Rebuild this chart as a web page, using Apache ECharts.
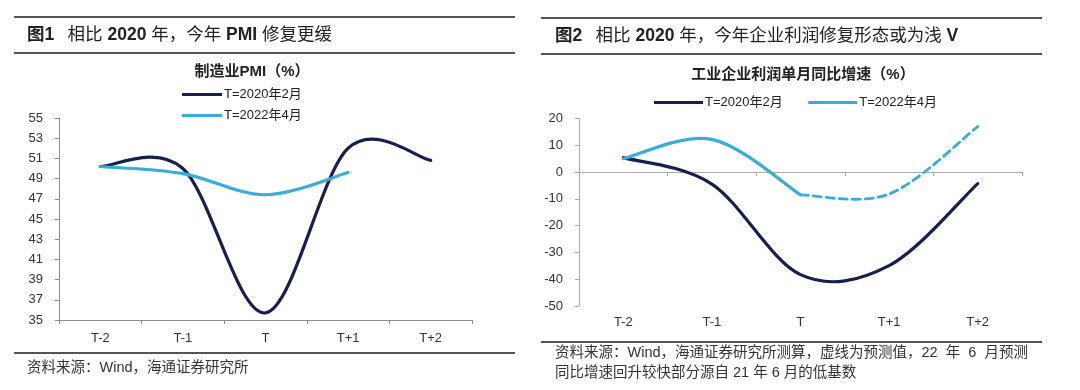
<!DOCTYPE html>
<html><head><meta charset="utf-8">
<script src="https://cdn.jsdelivr.net/npm/echarts@6/dist/echarts.min.js"></script>
<style>html,body{margin:0;padding:0;background:#fff}#c{width:1080px;height:390px}</style>
</head><body><div id="c"></div>
<script>
const categories = ['T-2','T-1','T','T+1','T+2'];
const pmi2020 = [50.2, 50.0, 35.7, 52.0, 50.8];
const pmi2022 = [50.2, 49.5, 47.4, 49.6, null];
const profit2020 = [5.4, -4.5, -38.3, -34.9, -4.3];
const profit2022Actual = [5.0, 12.2, -8.5, null, null];
const profit2022Forecast = [null, null, -8.5, -8.2, 17.0];
const seriesNames = ['T=2020年2月', 'T=2022年4月'];
const pmiTicks = {min: 35, max: 55, interval: 2};
const profitTicks = {min: -50, max: 20, interval: 10};

const FONT = '"Liberation Sans","Noto Sans CJK SC",sans-serif';
const DARK = '#16204e';
const LIGHT = '#38acdc';
const AX = '#8c8c8c';
const chart = echarts.init(document.getElementById('c'), null, {renderer: 'canvas'});

function hline(x1, x2, y, w) {
  return {type: 'line', shape: {x1: x1, y1: y, x2: x2, y2: y}, style: {stroke: '#555', lineWidth: w || 1.8}, silent: true};
}
function txt(x, y, text, size, weight, color, align) {
  return {type: 'text', x: x, y: y, style: {text: text, font: (weight || 'normal') + ' ' + size + 'px ' + FONT, fill: color || '#222', textAlign: align || 'left', textVerticalAlign: 'middle'}, silent: true};
}
function richTitle(x, y, parts) {
  const rich = {
    b: {fontFamily: FONT, fontWeight: 'bold', fontSize: 17.5, fill: '#222', color: '#222'},
    n: {fontFamily: FONT, fontWeight: 'normal', fontSize: 17.5, fill: '#222', color: '#222'}
  };
  return {type: 'text', x: x, y: y, style: {text: parts, rich: rich, textVerticalAlign: 'middle', verticalAlign: 'middle'}, silent: true};
}

// Excel-style smoothed curve (Catmull-Rom, tension 1/6) through the data points, positioned by the axes
function curveSeries(name, values, xi, yi, color, width, dash) {
  const pts = [];
  values.forEach(function (v, i) { if (v !== null) pts.push([i, v]); });
  return {
    name: name, type: 'custom', xAxisIndex: xi, yAxisIndex: yi,
    data: pts, encode: {x: 0, y: 1},
    itemStyle: {color: color},
    renderItem: function (params, api) {
      if (params.dataIndex !== 0) return null;
      const c = pts.map(function (p) { return api.coord(p); });
      let d = 'M' + c[0][0] + ' ' + c[0][1];
      for (let i = 0; i < c.length - 1; i++) {
        const p0 = c[i - 1] || c[i], p1 = c[i], p2 = c[i + 1], p3 = c[i + 2] || c[i + 1];
        const c1x = p1[0] + (p2[0] - p0[0]) / 6, c1y = p1[1] + (p2[1] - p0[1]) / 6;
        const c2x = p2[0] - (p3[0] - p1[0]) / 6, c2y = p2[1] - (p3[1] - p1[1]) / 6;
        d += ' C' + c1x + ' ' + c1y + ' ' + c2x + ' ' + c2y + ' ' + p2[0] + ' ' + p2[1];
      }
      return {type: 'path', shape: {pathData: d}, style: {fill: 'none', stroke: color, lineWidth: width, lineDash: dash || null, lineCap: 'round', lineJoin: 'round'}};
    }
  };
}

const option = {
  animation: false,
  textStyle: {fontFamily: FONT},
  graphic: [
    hline(14, 515, 17), hline(14, 515, 53), hline(14, 515, 353),
    hline(541, 1042, 18), hline(541, 1042, 54), hline(541, 1042, 342),
    richTitle(27, 35, '{b|图1}    {n|相比 }{b|2020 }{n|年，今年 }{b|PMI }{n|修复更缓}'),
    richTitle(555, 36, '{b|图2}    {n|相比 }{b|2020 }{n|年，今年企业利润修复形态或为浅 }{b|V}'),
    txt(252, 72, '制造业PMI（%）', 15, 'bold', '#222', 'center'),
    txt(803, 75, '工业企业利润单月同比增速（%）', 15, 'bold', '#222', 'center'),
    txt(27, 368, '资料来源：Wind，海通证券研究所', 14.5, 'normal', '#333'),
    txt(555, 353, '资料来源：Wind，海通证券研究所测算，虚线为预测值，22  年  6  月预测', 14.5, 'normal', '#333'),
    txt(555, 373, '同比增速回升较快部分源自 21 年 6 月的低基数', 14.5, 'normal', '#333')
  ],
  legend: [
    {
      orient: 'vertical', left: 182, top: 88, padding: 0, itemGap: 8, itemWidth: 40, itemHeight: 3,
      icon: 'rect', data: seriesNames,
      textStyle: {fontSize: 13, color: '#222', padding: [0, 0, 0, -3]},
      selectedMode: false
    },
    {
      orient: 'horizontal', left: 654, top: 96, padding: 0, itemGap: 22, itemWidth: 49, itemHeight: 3,
      icon: 'rect', data: seriesNames.map(function (n) { return n + ' '; }),
      textStyle: {fontSize: 13, color: '#222', padding: [0, 0, 0, -3]},
      selectedMode: false
    }
  ],
  grid: [
    {left: 59, top: 118, width: 413, height: 202},
    {left: 579, top: 118.5, width: 443, height: 187.5}
  ],
  xAxis: [
    {
      gridIndex: 0, type: 'category', data: categories, boundaryGap: true,
      axisLine: {lineStyle: {color: AX}}, axisTick: {show: true, length: 4, lineStyle: {color: AX}},
      axisLabel: {color: '#333', fontSize: 13, margin: 12}
    },
    {
      gridIndex: 1, type: 'category', data: categories, boundaryGap: true,
      axisLine: {onZero: false, show: false}, axisTick: {show: false},
      axisLabel: {color: '#333', fontSize: 13, margin: 10}
    },
    {
      gridIndex: 1, type: 'category', data: categories, boundaryGap: true, position: 'bottom',
      axisLine: {onZero: true, lineStyle: {color: '#aaa'}}, axisTick: {show: true, length: 4, lineStyle: {color: '#aaa'}},
      axisLabel: {show: false}
    }
  ],
  yAxis: [
    {
      gridIndex: 0, type: 'value', min: pmiTicks.min, max: pmiTicks.max, interval: pmiTicks.interval,
      axisLine: {show: true, lineStyle: {color: AX}}, axisTick: {show: true, length: 4, lineStyle: {color: AX}},
      splitLine: {show: false}, axisLabel: {color: '#333', fontSize: 13, margin: 16}
    },
    {
      gridIndex: 1, type: 'value', min: profitTicks.min, max: profitTicks.max, interval: profitTicks.interval,
      axisLine: {show: true, lineStyle: {color: '#aaa'}}, axisTick: {show: true, length: 4, lineStyle: {color: '#aaa'}},
      splitLine: {show: false}, axisLabel: {color: '#333', fontSize: 13, margin: 16}
    }
  ],
  series: [
    curveSeries(seriesNames[0], pmi2020, 0, 0, DARK, 3.2),
    curveSeries(seriesNames[1], pmi2022, 0, 0, LIGHT, 3.2),
    curveSeries(seriesNames[0] + ' ', profit2020, 1, 1, DARK, 3.2),
    curveSeries(seriesNames[1] + ' ', profit2022Actual, 1, 1, LIGHT, 3.2),
    curveSeries(seriesNames[1] + ' ', profit2022Forecast, 1, 1, LIGHT, 2.8, [8, 5])
  ]
};
chart.setOption(option);
</script></body></html>
